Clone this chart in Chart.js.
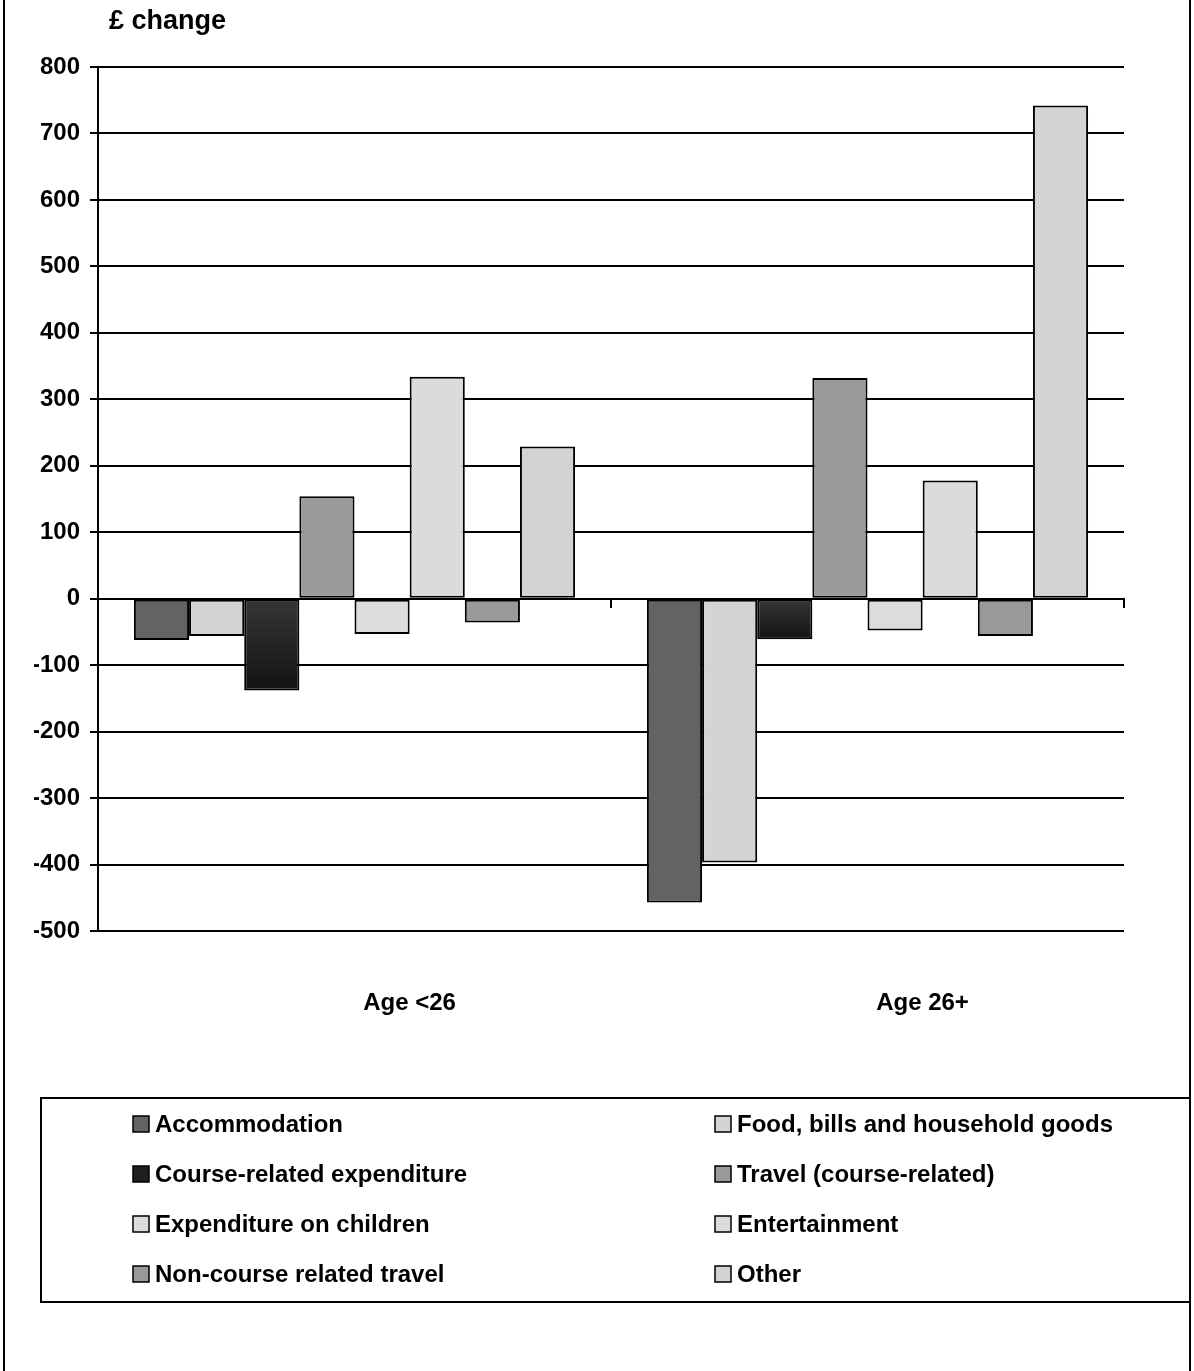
<!DOCTYPE html>
<html>
<head>
<meta charset="utf-8">
<title>Change in student expenditure by age</title>
<script src="https://cdn.jsdelivr.net/npm/chart.js@4.4.0/dist/chart.umd.min.js"></script>
<style>
  html, body { margin: 0; padding: 0; background: #fff; }
  canvas { display: block; }
</style>
</head>
<body>
<canvas id="spendChart" width="1194" height="1371"></canvas>
<script>
// categories and values (£ change)
const ageGroups = ['Age <26', 'Age 26+'];
const accommodation = [-62, -457];
const foodBills = [-56, -397];
const courseExpenditure = [-138, -61];
const travelCourse = [154, 332];
const childrenSpend = [-53, -48];
const entertainment = [334, 178];
const nonCourseTravel = [-36, -56];
const otherSpend = [229, 742];

// value axis
const yMin = -500;
const yMax = 800;
const yStep = 100;

const FONT = "'Liberation Sans', Arial, sans-serif";

// dark gradient for the course-related bars, drawn from zero to the bar end
function courseFill(ctx) {
    const chart = ctx.chart;
    const y = chart.scales && chart.scales.y;
    if (!y || !chart.chartArea || typeof ctx.raw !== 'number') return '#222222';
    const y0 = y.getPixelForValue(0);
    const y1 = y.getPixelForValue(ctx.raw);
    if (!Number.isFinite(y0) || !Number.isFinite(y1) || y0 === y1) return '#222222';
    const g = chart.ctx.createLinearGradient(0, y0, 0, y1);
    g.addColorStop(0, '#363636');
    g.addColorStop(1, '#131313');
    return g;
}

function series(label, data, fill, swatch) {
    return {
        label: label,
        data: data,
        backgroundColor: fill,
        legendColor: swatch || fill,
        borderColor: '#000',
        borderWidth: 2,
        borderSkipped: false,
        xAxisID: 'x',
        categoryPercentage: 0.86,
        barPercentage: 1
    };
}

// two-column boxed legend, like the original
const boxLegend = {
    id: 'boxLegend',
    afterDraw(chart) {
        const c = chart.ctx;
        c.save();
        c.strokeStyle = '#000';
        c.lineWidth = 2;
        c.strokeRect(41, 1098, 1149, 204);

        c.font = 'bold 24px ' + FONT;
        c.textBaseline = 'middle';
        c.textAlign = 'left';
        chart.data.datasets.forEach((ds, i) => {
            const x = i % 2 === 0 ? 133 : 715;
            const y = 1124 + Math.floor(i / 2) * 50;
            c.fillStyle = ds.legendColor;
            c.fillRect(x, y - 8, 16, 16);
            c.lineWidth = 1.5;
            c.strokeRect(x, y - 8, 16, 16);
            c.fillStyle = '#000';
            c.fillText(ds.label, x + 22, y + 1);
        });
        c.restore();
    }
};

// unit label above the value axis and the outer frame
const frame = {
    id: 'frame',
    afterDraw(chart) {
        const c = chart.ctx;
        c.save();
        c.fillStyle = '#000';
        c.font = 'bold 27px ' + FONT;
        c.textBaseline = 'alphabetic';
        c.fillText('£ change', 109, 29);
        c.strokeStyle = '#000';
        c.lineWidth = 2;
        c.beginPath();
        c.moveTo(4, 0); c.lineTo(4, 1371);
        c.moveTo(1190, 0); c.lineTo(1190, 1371);
        c.stroke();
        c.restore();
    }
};

new Chart(document.getElementById('spendChart'), {
    type: 'bar',
    data: {
        labels: ageGroups,
        datasets: [
            series('Accommodation', accommodation, '#636363'),
            series('Food, bills and household goods', foodBills, '#d4d4d4'),
            series('Course-related expenditure', courseExpenditure, courseFill, '#1f1f1f'),
            series('Travel (course-related)', travelCourse, '#9a9a9a'),
            series('Expenditure on children', childrenSpend, '#dcdcdc'),
            series('Entertainment', entertainment, '#dbdbdb'),
            series('Non-course related travel', nonCourseTravel, '#999999'),
            series('Other', otherSpend, '#d3d3d3')
        ]
    },
    options: {
        responsive: false,
        animation: false,
        devicePixelRatio: 1,
        layout: { padding: { left: 34, top: 67, right: 70, bottom: 320 } },
        plugins: {
            legend: { display: false },
            tooltip: { enabled: false }
        },
        scales: {
            y: {
                min: yMin,
                max: yMax,
                ticks: {
                    stepSize: yStep,
                    color: '#000',
                    padding: 10,
                    font: { family: FONT, size: 24, weight: 'bold' }
                },
                grid: { color: '#000', lineWidth: 2, tickLength: 8 },
                border: { color: '#000', width: 2 },
                afterFit(scale) { scale.width = 64; }
            },
            // category axis sitting on the zero line, only the tick marks
            x: {
                type: 'category',
                position: { y: 0 },
                offset: true,
                ticks: { display: false },
                grid: { offset: true, drawOnChartArea: false, color: '#000', lineWidth: 2, tickLength: 8 },
                border: { color: '#000', width: 2 }
            },
            // same categories along the bottom, for the labels
            x2: {
                type: 'category',
                labels: ageGroups,
                position: 'bottom',
                offset: true,
                grid: { display: false, drawTicks: false },
                border: { display: false },
                ticks: {
                    color: '#000',
                    padding: 58,
                    labelOffset: 55,
                    font: { family: FONT, size: 24, weight: 'bold' }
                },
                afterFit(scale) { scale.height = 120; }
            }
        }
    },
    plugins: [boxLegend, frame]
});
</script>
</body>
</html>
